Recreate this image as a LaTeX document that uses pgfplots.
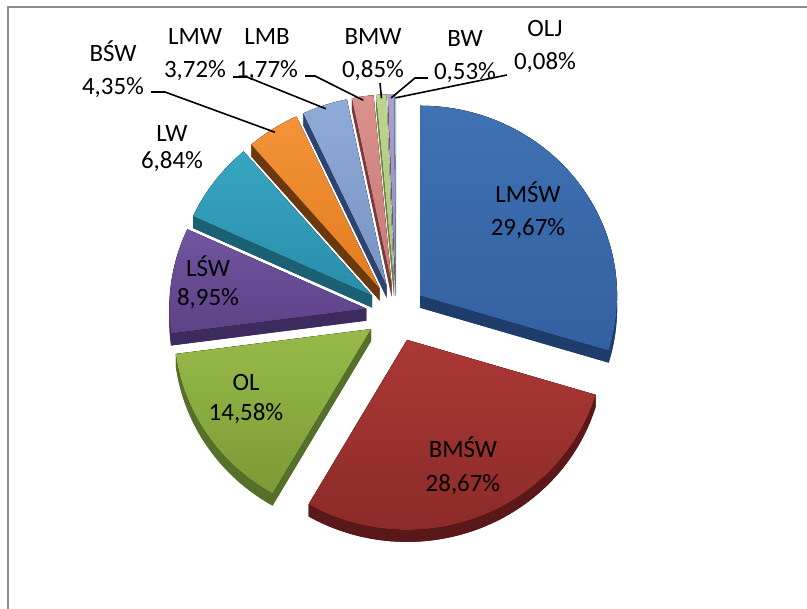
\documentclass[border=0pt]{standalone}
\usepackage{pgfplots}
\pgfplotsset{compat=1.18}
\usepackage{pgfplotstable}
\usepackage{fontspec}
\setmainfont{Carlito}

% Shares in percent, clockwise from 12 o'clock.
% X1,Y1 / X2,Y2: start and knee of the leader line; lx, ly1, ly2: label x and baselines.
\pgfplotstableread{
name  value X1  Y1  X2  Y2  lead lx  ly1 ly2
LMŚW  29.67 0   0   0   0   0    528 406 373
BMŚW  28.67 0   0   0   0   0    463 151 117
OL    14.58 0   0   0   0   0    246 218 188
LŚW   8.95  0   0   0   0   0    208 332 303
LW    6.84  0   0   0   0   0    172 467 440
BŚW   4.35  151 517 165 517 1    113 547 514
LMW   3.72  233 532 247 532 1    195 564 531
LMB   1.77  305 533 315 533 1    267 564 531
BMW   0.85  380 526 380 526 1    373 564 531
BW    0.53  428 531 415 531 1    465 562 529
OLJ   0.08  507 534 507 534 1    545 572 539
}\piedata

% top face gradient (top/bottom) and side wall colour of each slice
\definecolor{top0}{HTML}{3F71B3}\definecolor{bot0}{HTML}{3360A0}\definecolor{side0}{HTML}{1F3D6B}
\definecolor{top1}{HTML}{AB3835}\definecolor{bot1}{HTML}{8A2A28}\definecolor{side1}{HTML}{5A1818}
\definecolor{top2}{HTML}{96BB4A}\definecolor{bot2}{HTML}{7A9A35}\definecolor{side2}{HTML}{54702A}
\definecolor{top3}{HTML}{7055A0}\definecolor{bot3}{HTML}{5C4286}\definecolor{side3}{HTML}{3D2A5E}
\definecolor{top4}{HTML}{37A6C2}\definecolor{bot4}{HTML}{2A8DAA}\definecolor{side4}{HTML}{1C6074}
\definecolor{top5}{HTML}{F39438}\definecolor{bot5}{HTML}{E27B1E}\definecolor{side5}{HTML}{6B3810}
\definecolor{top6}{HTML}{90ABD8}\definecolor{bot6}{HTML}{7693C4}\definecolor{side6}{HTML}{2D4470}
\definecolor{top7}{HTML}{DA918E}\definecolor{bot7}{HTML}{C77875}\definecolor{side7}{HTML}{7A3A38}
\definecolor{top8}{HTML}{BDD590}\definecolor{bot8}{HTML}{A8C478}\definecolor{side8}{HTML}{6C8040}
\definecolor{top9}{HTML}{AE9FCE}\definecolor{bot9}{HTML}{998ABE}\definecolor{side9}{HTML}{5D4E80}
\definecolor{top10}{HTML}{9AD2E0}\definecolor{bot10}{HTML}{82C2D4}\definecolor{side10}{HTML}{4A8A9A}
\definecolor{framegray}{HTML}{8C8C8C}

% pie geometry in axis units
\def\pcx{396}\def\pcy{296}\def\rx{197}\def\ry{190}\def\dexp{30}\def\thick{12}

\newcommand\drawslice[1]{%
  \edef\pa{\csname pieS#1\endcsname}\edef\pb{\csname pieE#1\endcsname}%
  \pgfmathsetmacro\pmid{(\pa+\pb)/2}%
  \pgfmathsetmacro\ax{\pcx+\dexp*cos(\pmid)}%
  \pgfmathsetmacro\ay{\pcy+\dexp*\ry/\rx*sin(\pmid)}%
  \pgfmathsetmacro\bx{\ax+\rx*cos(\pa)}\pgfmathsetmacro\by{\ay+\ry*sin(\pa)}%
  \pgfmathsetmacro\ex{\ax+\rx*cos(\pb)}\pgfmathsetmacro\ey{\ay+\ry*sin(\pb)}%
  \pgfmathsetmacro\ayd{\ay-\thick}\pgfmathsetmacro\byd{\by-\thick}\pgfmathsetmacro\eyd{\ey-\thick}%
  \pgfmathsetmacro\tipx{\ax+0.98*\rx*cos(\pmid)}\pgfmathsetmacro\tipy{\ay+0.98*\ry*sin(\pmid)}%
  \expandafter\xdef\csname pieTx#1\endcsname{\tipx}%
  \expandafter\xdef\csname pieTy#1\endcsname{\tipy}%
  % side walls
  \fill[side#1] (axis cs:\ax,\ayd) -- (axis cs:\bx,\byd)
     arc[start angle=\pa,end angle=\pb,x radius=\rx bp,y radius=\ry bp] -- cycle;
  \fill[side#1] (axis cs:\ax,\ay) -- (axis cs:\bx,\by) -- (axis cs:\bx,\byd) -- (axis cs:\ax,\ayd) -- cycle;
  \fill[side#1] (axis cs:\ax,\ay) -- (axis cs:\ex,\ey) -- (axis cs:\ex,\eyd) -- (axis cs:\ax,\ayd) -- cycle;
  \fill[side#1] (axis cs:\bx,\by) arc[start angle=\pa,end angle=\pb,x radius=\rx bp,y radius=\ry bp]
     -- (axis cs:\ex,\eyd) arc[start angle=\pb,end angle=\pa,x radius=\rx bp,y radius=\ry bp] -- cycle;
  % top face
  \fill[top color=top#1,bottom color=bot#1] (axis cs:\ax,\ay) -- (axis cs:\bx,\by)
     arc[start angle=\pa,end angle=\pb,x radius=\rx bp,y radius=\ry bp] -- cycle;
}

\newcommand\labelslice[1]{%
  \pgfplotstablegetelem{#1}{name}\of\piedata\let\nm\pgfplotsretval
  \pgfplotstablegetelem{#1}{value}\of\piedata\let\val\pgfplotsretval
  \pgfplotstablegetelem{#1}{lx}\of\piedata\let\lx\pgfplotsretval
  \pgfplotstablegetelem{#1}{ly1}\of\piedata\let\lya\pgfplotsretval
  \pgfplotstablegetelem{#1}{ly2}\of\piedata\let\lyb\pgfplotsretval
  \pgfplotstablegetelem{#1}{lead}\of\piedata\let\lead\pgfplotsretval
  \ifnum\lead=1
    \pgfplotstablegetelem{#1}{X1}\of\piedata\let\xa\pgfplotsretval
    \pgfplotstablegetelem{#1}{Y1}\of\piedata\let\ya\pgfplotsretval
    \pgfplotstablegetelem{#1}{X2}\of\piedata\let\xb\pgfplotsretval
    \pgfplotstablegetelem{#1}{Y2}\of\piedata\let\yb\pgfplotsretval
    \draw[black,line width=1.6bp] (axis cs:\xa,\ya) -- (axis cs:\xb,\yb)
      -- (axis cs:\csname pieTx#1\endcsname,\csname pieTy#1\endcsname);
  \fi
  \node[anchor=base,inner sep=0pt,font=\fontsize{25}{30}\selectfont] at (axis cs:\lx,\lya) {\nm};
  \node[anchor=base,inner sep=0pt,font=\fontsize{25}{30}\selectfont] at (axis cs:\lx,\lyb)
    {\pgfmathprintnumber[fixed,fixed zerofill,precision=2,use comma,assume math mode=true]{\val}\%};
}

\begin{document}
% start and end angles of every slice
\pgfmathsetmacro\total{0}%
\pgfplotsforeachungrouped \i in {0,...,10}{%
  \pgfplotstablegetelem{\i}{value}\of\piedata
  \pgfmathsetmacro\total{\total+\pgfplotsretval}%
}%
\def\cum{0}%
\pgfplotsforeachungrouped \i in {0,...,10}{%
  \pgfplotstablegetelem{\i}{value}\of\piedata
  \pgfmathsetmacro\sa{90-\cum/\total*360}%
  \pgfmathsetmacro\cum{\cum+\pgfplotsretval}%
  \pgfmathsetmacro\ea{90-\cum/\total*360}%
  \expandafter\xdef\csname pieS\i\endcsname{\sa}%
  \expandafter\xdef\csname pieE\i\endcsname{\ea}%
}%
\begin{tikzpicture}
\begin{axis}[
  x=1bp, y=1bp,
  xmin=0, xmax=807, ymin=0, ymax=609,
  hide axis,
]
\pgfplotsextra{%
  \path (axis cs:0,0) rectangle (axis cs:807,609);
  \draw[framegray,line width=2bp] (axis cs:8,-5) -- (axis cs:8,602) -- (axis cs:812,602);
  % back slices first
  \foreach \k in {10,9,8,7,6,5,4,0,3,2,1} {\drawslice{\k}}
  \foreach \k in {0,...,10} {\labelslice{\k}}
}
\end{axis}
\end{tikzpicture}
\end{document}
